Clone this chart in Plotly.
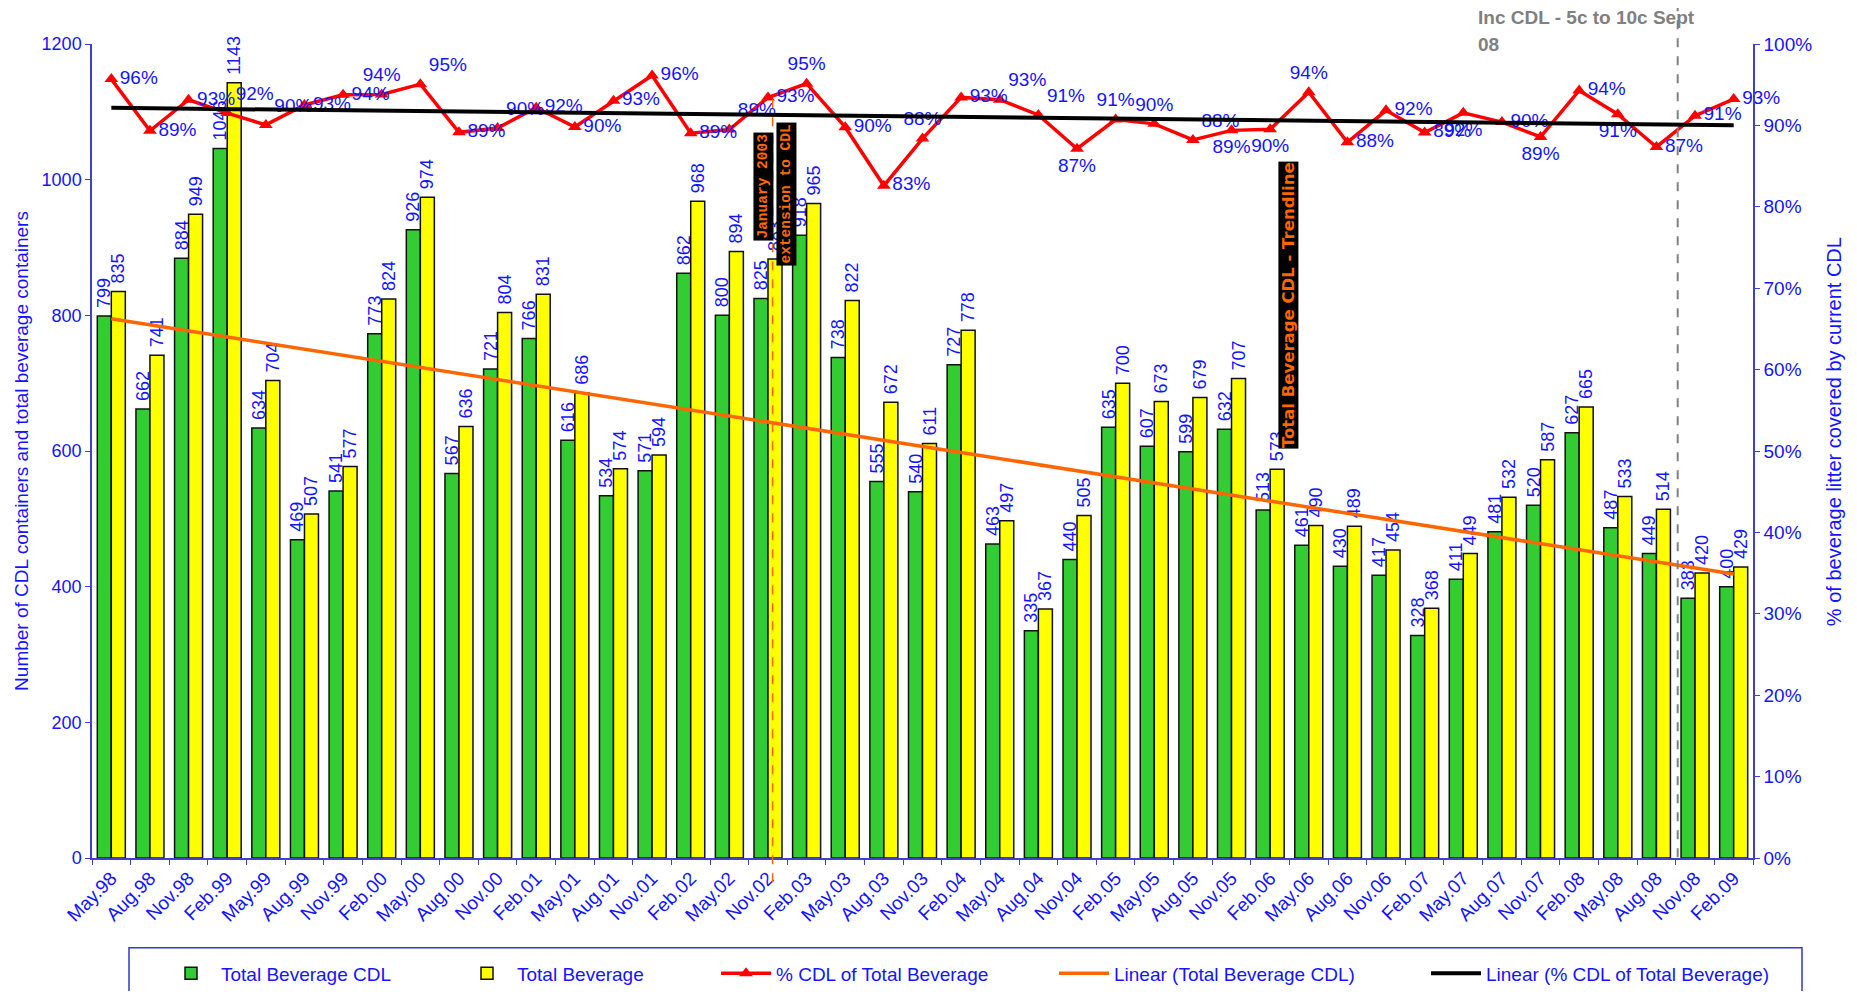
import numpy as np
import plotly.graph_objects as go

categories = ["May.98", "Aug.98", "Nov.98", "Feb.99", "May.99", "Aug.99", "Nov.99", "Feb.00",
              "May.00", "Aug.00", "Nov.00", "Feb.01", "May.01", "Aug.01", "Nov.01", "Feb.02",
              "May.02", "Nov.02", "Feb.03", "May.03", "Aug.03", "Nov.03", "Feb.04", "May.04",
              "Aug.04", "Nov.04", "Feb.05", "May.05", "Aug.05", "Nov.05", "Feb.06", "May.06",
              "Aug.06", "Nov.06", "Feb.07", "May.07", "Aug.07", "Nov.07", "Feb.08", "May.08",
              "Aug.08", "Nov.08", "Feb.09"]

total_cdl = [799, 662, 884, 1046, 634, 469, 541, 773, 926, 567, 721, 766, 616, 534, 571, 862,
             800, 825, 918, 738, 555, 540, 727, 463, 335, 440, 635, 607, 599, 632, 513, 461,
             430, 417, 328, 411, 481, 520, 627, 487, 449, 383, 400]

total_bev = [835, 741, 949, 1143, 704, 507, 577, 824, 974, 636, 804, 831, 686, 574, 594, 968,
             894, 883, 965, 822, 672, 611, 778, 497, 367, 505, 700, 673, 679, 707, 573, 490,
             489, 454, 368, 449, 532, 587, 665, 533, 514, 420, 429]

pct_cdl = [95.69, 89.34, 93.15, 91.51, 90.06, 92.51, 93.76, 93.81, 95.07, 89.15, 89.68, 92.18,
           89.80, 93.03, 96.13, 89.05, 89.49, 93.43, 95.13, 89.78, 82.59, 88.38, 93.44, 93.16,
           91.28, 87.13, 90.71, 90.19, 88.22, 89.39, 89.53, 94.08, 87.93, 91.85, 89.13, 91.54,
           90.41, 88.59, 94.29, 91.37, 87.35, 91.19, 93.24]

pct_pos = ["middle right", "middle right", "middle right", "top right", "top right",
           "middle right", "middle right", "top center", "top right", "middle right",
           "top right", "middle right", "middle right", "middle right", "middle right",
           "middle right", "top right", "middle right", "top center", "middle right",
           "middle right", "top center", "middle right", "top right", "top right",
           "bottom center", "top center", "top center", "top right", "bottom center",
           "bottom center", "top center", "middle right", "middle right", "middle right",
           "bottom center", "middle right", "bottom center", "middle right", "bottom center",
           "middle right", "middle right", "middle right"]

# linear trendlines (least squares, as in the original spreadsheet)
idx = np.arange(len(categories))
a1, b1 = np.polyfit(idx, total_cdl, 1)
trend_cdl = a1 * idx + b1
a2, b2 = np.polyfit(idx, pct_cdl, 1)
trend_pct = a2 * idx + b2

FONT = "Arial, Liberation Sans, sans-serif"
BLUE = "#1414FF"
AXIS = "#4040CC"

# page body adds an 8px offset; figure is sized to fit inside the window
OFF = 8
W, H = 1857 - 2 * OFF, 999 - 2 * OFF
L = 92 - OFF
T = 44 - OFF
R = W - (1753 - OFF)
B = H - (857.7 - OFF)
PW = W - L - R
PH = H - T - B


def px_x(sx):
    return (sx - OFF - L) / PW


def px_y(sy):
    return (H - B - (sy - OFF)) / PH


NB = "\u00a0"  # small gap between bar top and its label

fig = go.Figure()

fig.add_trace(go.Bar(
    x=categories, y=total_cdl, name="Total Beverage CDL",
    marker=dict(color="#33CC33", line=dict(color="#111111", width=1.5)),
    text=[NB + str(v) for v in total_cdl], textposition="outside", textangle=-90,
    textfont=dict(color=BLUE, size=18, family=FONT), constraintext="none",
    cliponaxis=False, legend="legend",
))
fig.add_trace(go.Bar(
    x=categories, y=total_bev, name="Total Beverage",
    marker=dict(color="#FFFF00", line=dict(color="#111111", width=1.5)),
    text=[NB + str(v) for v in total_bev], textposition="outside", textangle=-90,
    textfont=dict(color=BLUE, size=18, family=FONT), constraintext="none",
    cliponaxis=False, legend="legend2",
))
fig.add_trace(go.Scatter(
    x=categories, y=trend_cdl, name="Linear (Total Beverage CDL)", mode="lines",
    line=dict(color="#FF6600", width=3.5), legend="legend4",
))
fig.add_trace(go.Scatter(
    x=categories, y=pct_cdl, name="% CDL of Total Beverage", yaxis="y2",
    mode="lines+markers+text",
    line=dict(color="#FF0000", width=3.5),
    marker=dict(symbol="triangle-up", size=12, color="#FF0000"),
    text=[f"{round(v)}%" for v in pct_cdl], textposition=pct_pos,
    textfont=dict(color=BLUE, size=19, family=FONT), cliponaxis=False,
    legend="legend3",
))
fig.add_trace(go.Scatter(
    x=categories, y=trend_pct, name="Linear (% CDL of Total Beverage)", yaxis="y2",
    mode="lines", line=dict(color="#000000", width=4), legend="legend5",
))

# legends
leg_text_starts = [223, 519, 778, 1116, 1488]
leg_names = ["legend", "legend2", "legend3", "legend4", "legend5"]
legend_y = px_y(973)
for name, ts in zip(leg_names, leg_text_starts):
    fig.update_layout({name: dict(
        x=px_x(ts - 62), y=legend_y, xanchor="left", yanchor="middle",
        orientation="h", bgcolor="rgba(0,0,0,0)", borderwidth=0,
        font=dict(color=BLUE, size=19, family=FONT), itemwidth=50,
    )})

shapes = [
    # legend frame
    dict(type="rect", xref="paper", yref="paper", x0=px_x(129), x1=px_x(1802),
         y0=px_y(1012), y1=px_y(947.5), line=dict(color="#3535D0", width=1.5),
         fillcolor="rgba(0,0,0,0)", layer="below"),
    # January 2003 marker line
    dict(type="line", xref="x", yref="paper", x0=17.12, x1=17.12,
         y0=px_y(882), y1=px_y(90), line=dict(color="#FF6600", width=1.5, dash="dash")),
    # Sept 08 marker line
    dict(type="line", xref="x", yref="paper", x0=40.55, x1=40.55,
         y0=px_y(857), y1=px_y(5), line=dict(color="#808080", width=2, dash="dash")),
]

MONO = "Liberation Mono, Courier New, monospace"
annotations = [
    dict(text="<b>January 2003</b>", xref="paper", yref="paper", x=px_x(763), y=px_y(187),
         xanchor="center", yanchor="middle",
         textangle=-90, showarrow=False, bgcolor="#000000", borderpad=1.5,
         font=dict(color="#FF6A00", size=14.5, family=MONO)),
    dict(text="<b>extension to CDL</b>", xref="paper", yref="paper", x=px_x(786), y=px_y(194),
         xanchor="center", yanchor="middle",
         textangle=-90, showarrow=False, bgcolor="#000000", borderpad=1.5,
         font=dict(color="#FF6A00", size=14.5, family=MONO)),
    dict(text="<b>Total Beverage CDL - Trendline</b>", xref="paper", yref="paper",
         x=px_x(1288), y=px_y(305), xanchor="center", yanchor="middle",
         textangle=-90, showarrow=False, bgcolor="#000000",
         borderpad=0, font=dict(color="#FF6600", size=16.5, family="DejaVu Sans, sans-serif")),
    dict(text="<b>Inc CDL - 5c to 10c Sept</b>", xref="paper", yref="paper",
         x=px_x(1476), y=px_y(18), xanchor="left", yanchor="middle", showarrow=False,
         font=dict(color="#808080", size=19, family=FONT)),
    dict(text="<b>08</b>", xref="paper", yref="paper",
         x=px_x(1476), y=px_y(44), xanchor="left", yanchor="middle", showarrow=False,
         font=dict(color="#808080", size=19, family=FONT)),
    # right axis title
    dict(text="% of beverage litter covered by current CDL", xref="paper", yref="paper",
         x=px_x(1834), y=px_y(432), xanchor="center", yanchor="middle",
         textangle=-90, showarrow=False,
         font=dict(color=BLUE, size=20, family=FONT)),
]

fig.update_layout(
    width=W, height=H,
    margin=dict(l=L, r=R, t=T, b=B, autoexpand=False),
    paper_bgcolor="white", plot_bgcolor="white",
    barmode="group", bargap=0.275, bargroupgap=0,
    font=dict(family=FONT, color=BLUE),
    showlegend=True,
    shapes=shapes, annotations=annotations,
    xaxis=dict(
        type="category", categoryorder="array", categoryarray=categories,
        range=[-0.5, len(categories) - 0.5],
        tickangle=-45, tickfont=dict(color=BLUE, size=19, family=FONT),
        showline=True, linecolor=AXIS, linewidth=1.5,
        ticks="outside", tickson="boundaries", ticklen=5, tickcolor=AXIS,
        showgrid=False, zeroline=False, automargin=False,
    ),
    yaxis=dict(
        range=[0, 1200], dtick=200, tickfont=dict(color=BLUE, size=18, family=FONT),
        showline=True, linecolor=AXIS, linewidth=1.5, ticks="outside", ticklen=5,
        tickcolor=AXIS, showgrid=False, zeroline=False, automargin=False,
        title=dict(text="Number of CDL containers and total beverage containers",
                   font=dict(color=BLUE, size=19, family=FONT), standoff=8),
    ),
    yaxis2=dict(
        range=[0, 100], dtick=10, ticksuffix="%", overlaying="y", side="right",
        tickfont=dict(color=BLUE, size=19, family=FONT),
        showline=True, linecolor=AXIS, linewidth=1.5, ticks="outside", ticklen=5,
        tickcolor=AXIS, showgrid=False, zeroline=False, automargin=False,
    ),
)

fig.write_html("out.html")
